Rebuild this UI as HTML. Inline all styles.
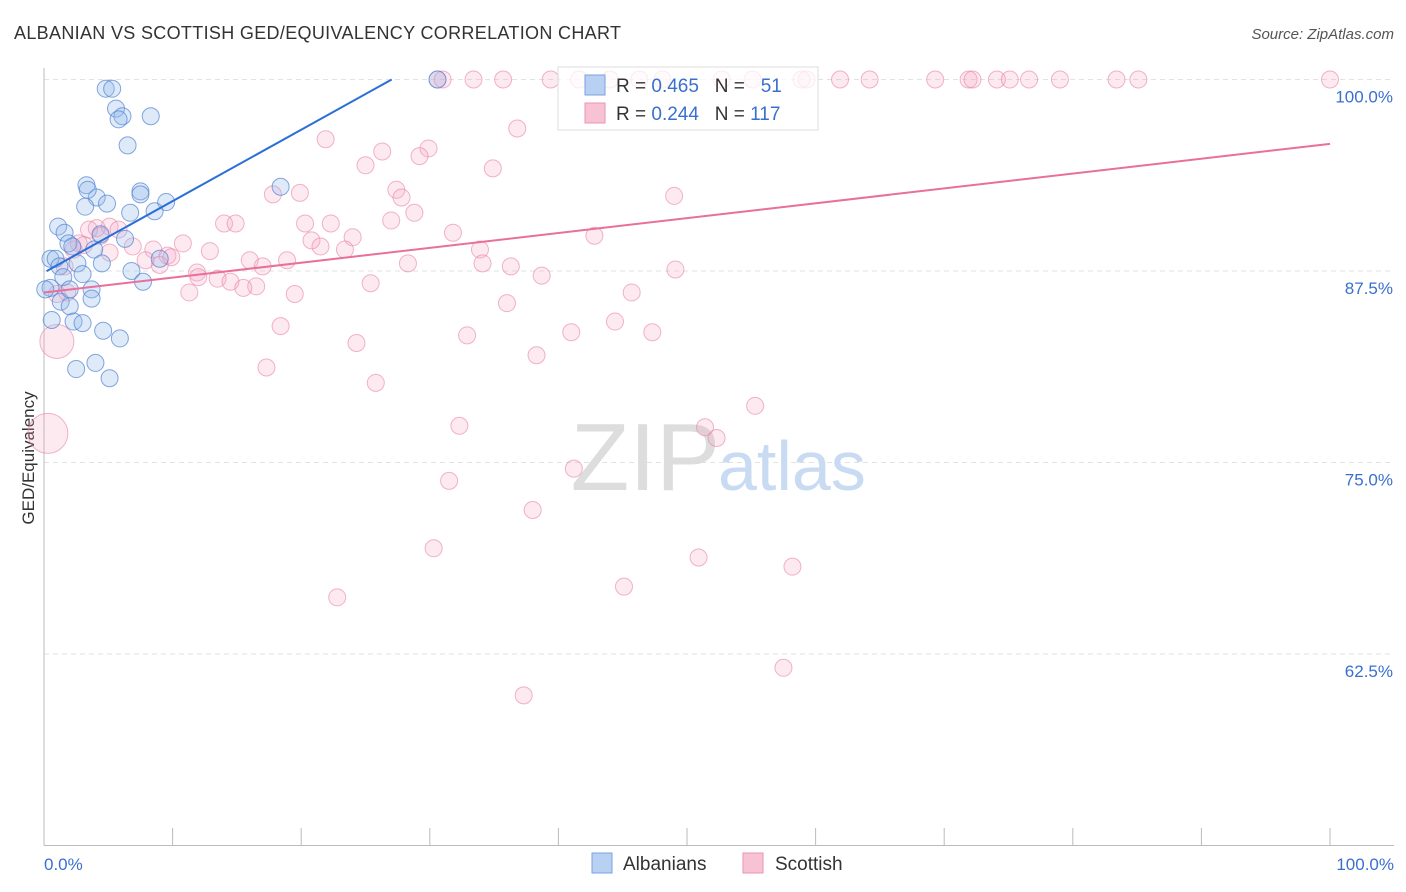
<!DOCTYPE html>
<html><head><meta charset="utf-8">
<style>
body{margin:0;background:#fff;font-family:"Liberation Sans",sans-serif;}
#wrap{position:relative;width:1406px;height:892px;overflow:hidden;}
svg text{font-family:"Liberation Sans",sans-serif;}
</style></head>
<body>
<div id="wrap">
<svg id="svg" width="1406" height="892" xmlns="http://www.w3.org/2000/svg">
<text x="14" y="39" font-size="18" fill="#333" textLength="607">ALBANIAN VS SCOTTISH GED/EQUIVALENCY CORRELATION CHART</text>
<text x="1394" y="39" font-size="15" fill="#555" font-style="italic" text-anchor="end">Source: ZipAtlas.com</text>
<text x="34" y="458" font-size="17" fill="#333" transform="rotate(-90 34 458)" text-anchor="middle">GED/Equivalency</text>
<g id="grid"></g>
<text x="720" y="490" font-size="96" fill="#ddd" font-family="Liberation Serif" text-anchor="end">ZIP</text>
<text x="718" y="490" font-size="70" fill="#c9dbf2">atlas</text>
<g id="marks"></g>
<g id="lines"></g>
<g>
<rect x="558" y="67" width="260" height="63" fill="rgba(255,255,255,0.75)" stroke="#ddd"/>
<rect x="585" y="75" width="20" height="20" fill="#b8d0f2" stroke="#7aa3e0"/>
<text x="616" y="92" font-size="19" fill="#333" xml:space="preserve">R = <tspan fill="#3a6fd0">0.465</tspan>   N =   <tspan fill="#3a6fd0">51</tspan></text>
<rect x="585" y="103" width="20" height="20" fill="#f7c3d4" stroke="#ec93b0"/>
<text x="616" y="120" font-size="19" fill="#333" xml:space="preserve">R = <tspan fill="#3a6fd0">0.244</tspan>   N = <tspan fill="#3a6fd0">117</tspan></text>
</g>
<g>
<rect x="592" y="853" width="20" height="20" fill="#b8d0f2" stroke="#7aa3e0"/>
<text x="623" y="870" font-size="19" fill="#333">Albanians</text>
<rect x="743" y="853" width="20" height="20" fill="#f7c3d4" stroke="#ec93b0"/>
<text x="775" y="870" font-size="19" fill="#333">Scottish</text>
</g>
</svg>
</div>
<script>
const yTicks=[100,87.5,75,62.5];
const yTickLabels=["100.0%","87.5%","75.0%","62.5%"];
const xTickLabels=["0.0%","100.0%"];
const blueX=[4.8,5.3,5.6,6.1,5.8,8.3,6.5,3.3,4.1,3.4,4.9,7.5,7.5,9.5,3.2,6.7,8.6,1.1,1.6,1.9,2.2,3.9,6.3,4.4,0.5,0.9,1.2,2.6,4.5,6.8,9.0,7.7,3.0,1.5,1.3,2.0,2.0,3.7,3.7,0.6,2.3,3.0,4.6,5.9,2.5,4.0,5.1,18.4,30.6,0.5,0.1];
const blueY=[99.4,99.4,98.1,97.6,97.4,97.6,95.7,93.1,92.3,92.8,91.9,92.7,92.5,92.0,91.7,91.3,91.4,90.4,90.0,89.3,89.1,88.9,89.6,89.9,88.3,88.3,87.8,88.0,88.0,87.5,88.3,86.8,87.3,87.1,85.5,85.2,86.3,86.3,85.7,84.3,84.2,84.1,83.6,83.1,81.1,81.5,80.5,93.0,100,86.4,86.3];
const pinkX=[30.6,31.0,33.4,35.7,39.4,41.6,44.0,46.3,48.1,52.7,55.1,58.9,59.3,61.9,64.2,69.3,71.9,72.2,74.1,75.1,76.6,79.0,83.4,85.1,100,
36.8,21.9,29.9,26.3,29.2,25.0,34.9,49.0,27.4,27.8,17.8,19.9,28.8,27.0,14.0,14.9,20.3,22.3,31.8,4.1,3.5,5.1,5.8,4.4,24.0,20.8,21.5,23.4,10.8,12.9,6.9,8.5,9.6,2.7,3.1,2.3,42.8,33.9,34.1,36.3,38.7,49.1,28.3,16.0,17.0,18.9,9.0,7.9,9.9,11.9,13.5,14.5,16.5,15.5,12.0,11.3,19.5,25.4,45.7,36.0,1.8,44.4,18.4,32.9,41.0,47.3,24.3,38.3,17.3,25.8,55.3,51.4,52.3,32.3,41.2,31.5,38.0,30.3,45.1,58.2,50.9,22.8,57.5,37.3,1.0,1.6,5.1,0.3,1.0];
const pinkY=[100,100,100,100,100,100,100,100,100,100,100,100,100,100,100,100,100,100,100,100,100,100,100,100,100,
96.8,96.1,95.5,95.3,95.0,94.4,94.2,92.4,92.8,92.3,92.5,92.6,91.3,90.8,90.6,90.6,90.6,90.6,90.0,90.3,90.2,90.4,90.2,89.8,89.7,89.5,89.1,88.9,89.3,88.8,89.1,88.9,88.5,89.3,89.2,88.9,89.8,88.9,88.0,87.8,87.2,87.6,88.0,88.2,87.8,88.2,87.9,88.2,88.4,87.4,87.0,86.8,86.5,86.4,87.1,86.1,86.0,86.7,86.1,85.4,86.1,84.2,83.9,83.3,83.5,83.5,82.8,82.0,81.2,80.2,78.7,77.3,76.6,77.4,74.6,73.8,71.9,69.4,66.9,68.2,68.8,66.2,61.6,59.8,86.0,87.8,88.7,76.9,82.9];
const pinkSize=[];pinkSize[pinkX.length-2]=20;pinkSize[pinkX.length-1]=17;
const blueTrend=[87.4,0.466]; // intercept, slope
const pinkTrend=[86.1,0.097];

const L=44,R=1330,T=79.5,B=845.5;
const sx=v=>L+(v/100)*(R-L);
const sy=v=>B-((v-50)/50)*(B-T);
const NS="http://www.w3.org/2000/svg";
function mk(tag,attrs,parent){const e=document.createElementNS(NS,tag);for(const k in attrs)e.setAttribute(k,attrs[k]);parent.appendChild(e);return e;}
const grid=document.getElementById('grid');
yTicks.forEach((t,i)=>{
 const g=mk('line',{x1:L,x2:1394,y1:sy(t),y2:sy(t),stroke:'#e2e2e2','stroke-dasharray':'5,4'},grid);
 
 
 const tx=mk('text',{x:1393,y:sy(t)+23,'font-size':17,fill:'#3a6fd0','text-anchor':'end'},grid);
 tx.textContent=yTickLabels[i];
 
 
});
const ax=mk('line',{x1:L,x2:L,y1:68,y2:B,stroke:'#bbb'},grid);


const bx=mk('line',{x1:L,x2:1394,y1:B,y2:B,stroke:'#bbb'},grid);


for(let i=0;i<=10;i++){
 const tk=mk('line',{x1:sx(i*10),x2:sx(i*10),y1:828,y2:B,stroke:'#bbb'},grid);
 
 
}
[[0,'start',44],[100,'end',1394]].forEach((d,i)=>{
 const tx=mk('text',{x:d[2],y:870,'font-size':17,fill:'#3a6fd0','text-anchor':d[1]},grid);
 tx.textContent=xTickLabels[i];
 
 
});
const marks=document.getElementById('marks');
pinkX.forEach((x,i)=>{
 const c=mk('circle',{cx:sx(x),cy:sy(pinkY[i]),r:pinkSize[i]||8.5,fill:'rgba(244,160,190,0.22)',stroke:'rgba(232,130,165,0.6)','stroke-width':1},marks);
 
 
});
blueX.forEach((x,i)=>{
 const c=mk('circle',{cx:sx(x),cy:sy(blueY[i]),r:8.5,fill:'rgba(150,185,235,0.3)',stroke:'rgba(80,130,210,0.7)','stroke-width':1},marks);
 
 
});
const lines=document.getElementById('lines');
const x1b=0.2,x2b=(100-blueTrend[0])/blueTrend[1];
const bl=mk('line',{x1:sx(x1b),y1:sy(blueTrend[0]+blueTrend[1]*x1b),x2:sx(x2b),y2:sy(100),stroke:'#2a6fd6','stroke-width':2},lines);


const pl=mk('line',{x1:sx(0),y1:sy(pinkTrend[0]),x2:sx(100),y2:sy(pinkTrend[0]+pinkTrend[1]*100),stroke:'#e8709a','stroke-width':2},lines);


</script>
</body></html>
